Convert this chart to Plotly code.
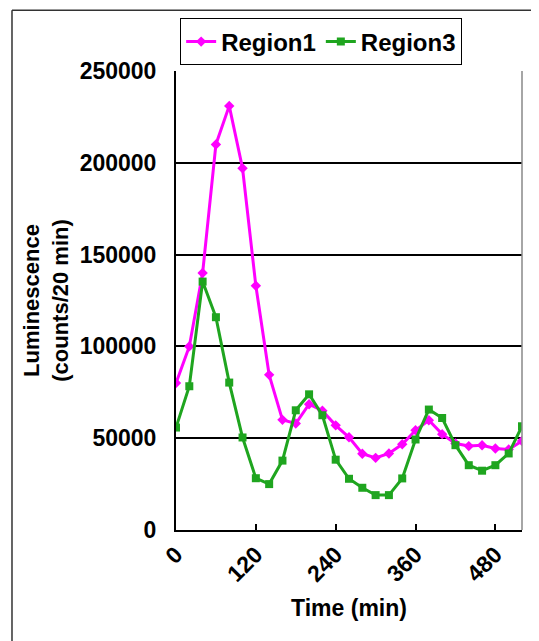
import plotly.graph_objects as go

time_min = [0, 20, 40, 60, 80, 100, 120, 140, 160, 180, 200, 220, 240, 260,
            280, 300, 320, 340, 360, 380, 400, 420, 440, 460, 480, 500, 520]
region1 = [80000, 100000, 140000, 210000, 231000, 197000, 133000, 84500, 60000, 58000,
           68500, 65000, 57000, 50500, 41500, 39300, 41700, 46700, 54300, 59800,
           52200, 47100, 45700, 46200, 44400, 43900, 48500]
region3 = [55800, 78300, 135300, 115900, 80300, 50400, 28200, 25000, 37800, 65200,
           73900, 62500, 38300, 27900, 23000, 19000, 19000, 28100, 49300, 65600,
           61000, 46200, 35300, 32300, 35300, 41700, 56500]
x_ticks = [0, 120, 240, 360, 480]
y_ticks = [0, 50000, 100000, 150000, 200000, 250000]

FONT = "Liberation Sans, Arial, Helvetica, sans-serif"

fig = go.Figure()
fig.add_trace(go.Scatter(
    x=time_min, y=region1, name="Region1", mode="lines+markers",
    line=dict(color="#FF00FF", width=3),
    marker=dict(symbol="diamond", size=8, color="#FF00FF"),
))
fig.add_trace(go.Scatter(
    x=time_min, y=region3, name="Region3", mode="lines+markers",
    line=dict(color="#1FA51F", width=3),
    marker=dict(symbol="square", size=8, color="#1FA51F"),
))

frame = dict(color="#333333", width=1.5)
fig.update_layout(
    width=531, height=633,
    margin=dict(l=168, r=17, t=62, b=111),
    paper_bgcolor="white", plot_bgcolor="white",
    font=dict(family=FONT, size=23, color="black", weight="bold"),
    showlegend=True,
    legend=dict(
        orientation="h", x=0.012, y=1.112, xanchor="left", yanchor="top",
        bordercolor="black", borderwidth=1, bgcolor="white",
        font=dict(family=FONT, size=24, color="black", weight="bold"),
        itemwidth=30, tracegroupgap=0,
    ),
    xaxis=dict(
        range=[0, 520], tickvals=x_ticks, ticktext=[str(v) for v in x_ticks],
        tickangle=-45, ticks="inside", ticklen=6, tickwidth=1.5, tickcolor="black",
        showline=True, linecolor="black", linewidth=2,
        showgrid=False, zeroline=False,
        title=dict(text="Time (min)", font=dict(family=FONT, size=23, weight="bold"), standoff=14),
        tickfont=dict(family=FONT, size=23, weight="bold"),
    ),
    yaxis=dict(
        range=[0, 250000], tickvals=y_ticks, ticktext=[str(v) for v in y_ticks],
        ticks="", ticklabelstandoff=13, showline=True, linecolor="black", linewidth=2,
        showgrid=True, gridcolor="black", gridwidth=2, zeroline=False,
        title=dict(text="Luminescence<br>(counts/20 min)", font=dict(family=FONT, size=22, weight="bold"), standoff=5),
        tickfont=dict(family=FONT, size=23, weight="bold"),
    ),
    shapes=[
        dict(type="line", xref="paper", yref="paper", x0=1, x1=1, y0=0, y1=1,
             line=dict(color="#888888", width=1.5)),
        dict(type="line", xref="paper", yref="paper", x0=-0.474, x1=-0.474, y0=-0.3, y1=1.1326, line=frame),
        dict(type="line", xref="paper", yref="paper", x0=1.029, x1=1.029, y0=-0.3, y1=1.1326, line=frame),
        dict(type="line", xref="paper", yref="paper", x0=-0.474, x1=1.029, y0=1.1326, y1=1.1326, line=frame),
    ],
)

fig.write_html("out.html")
